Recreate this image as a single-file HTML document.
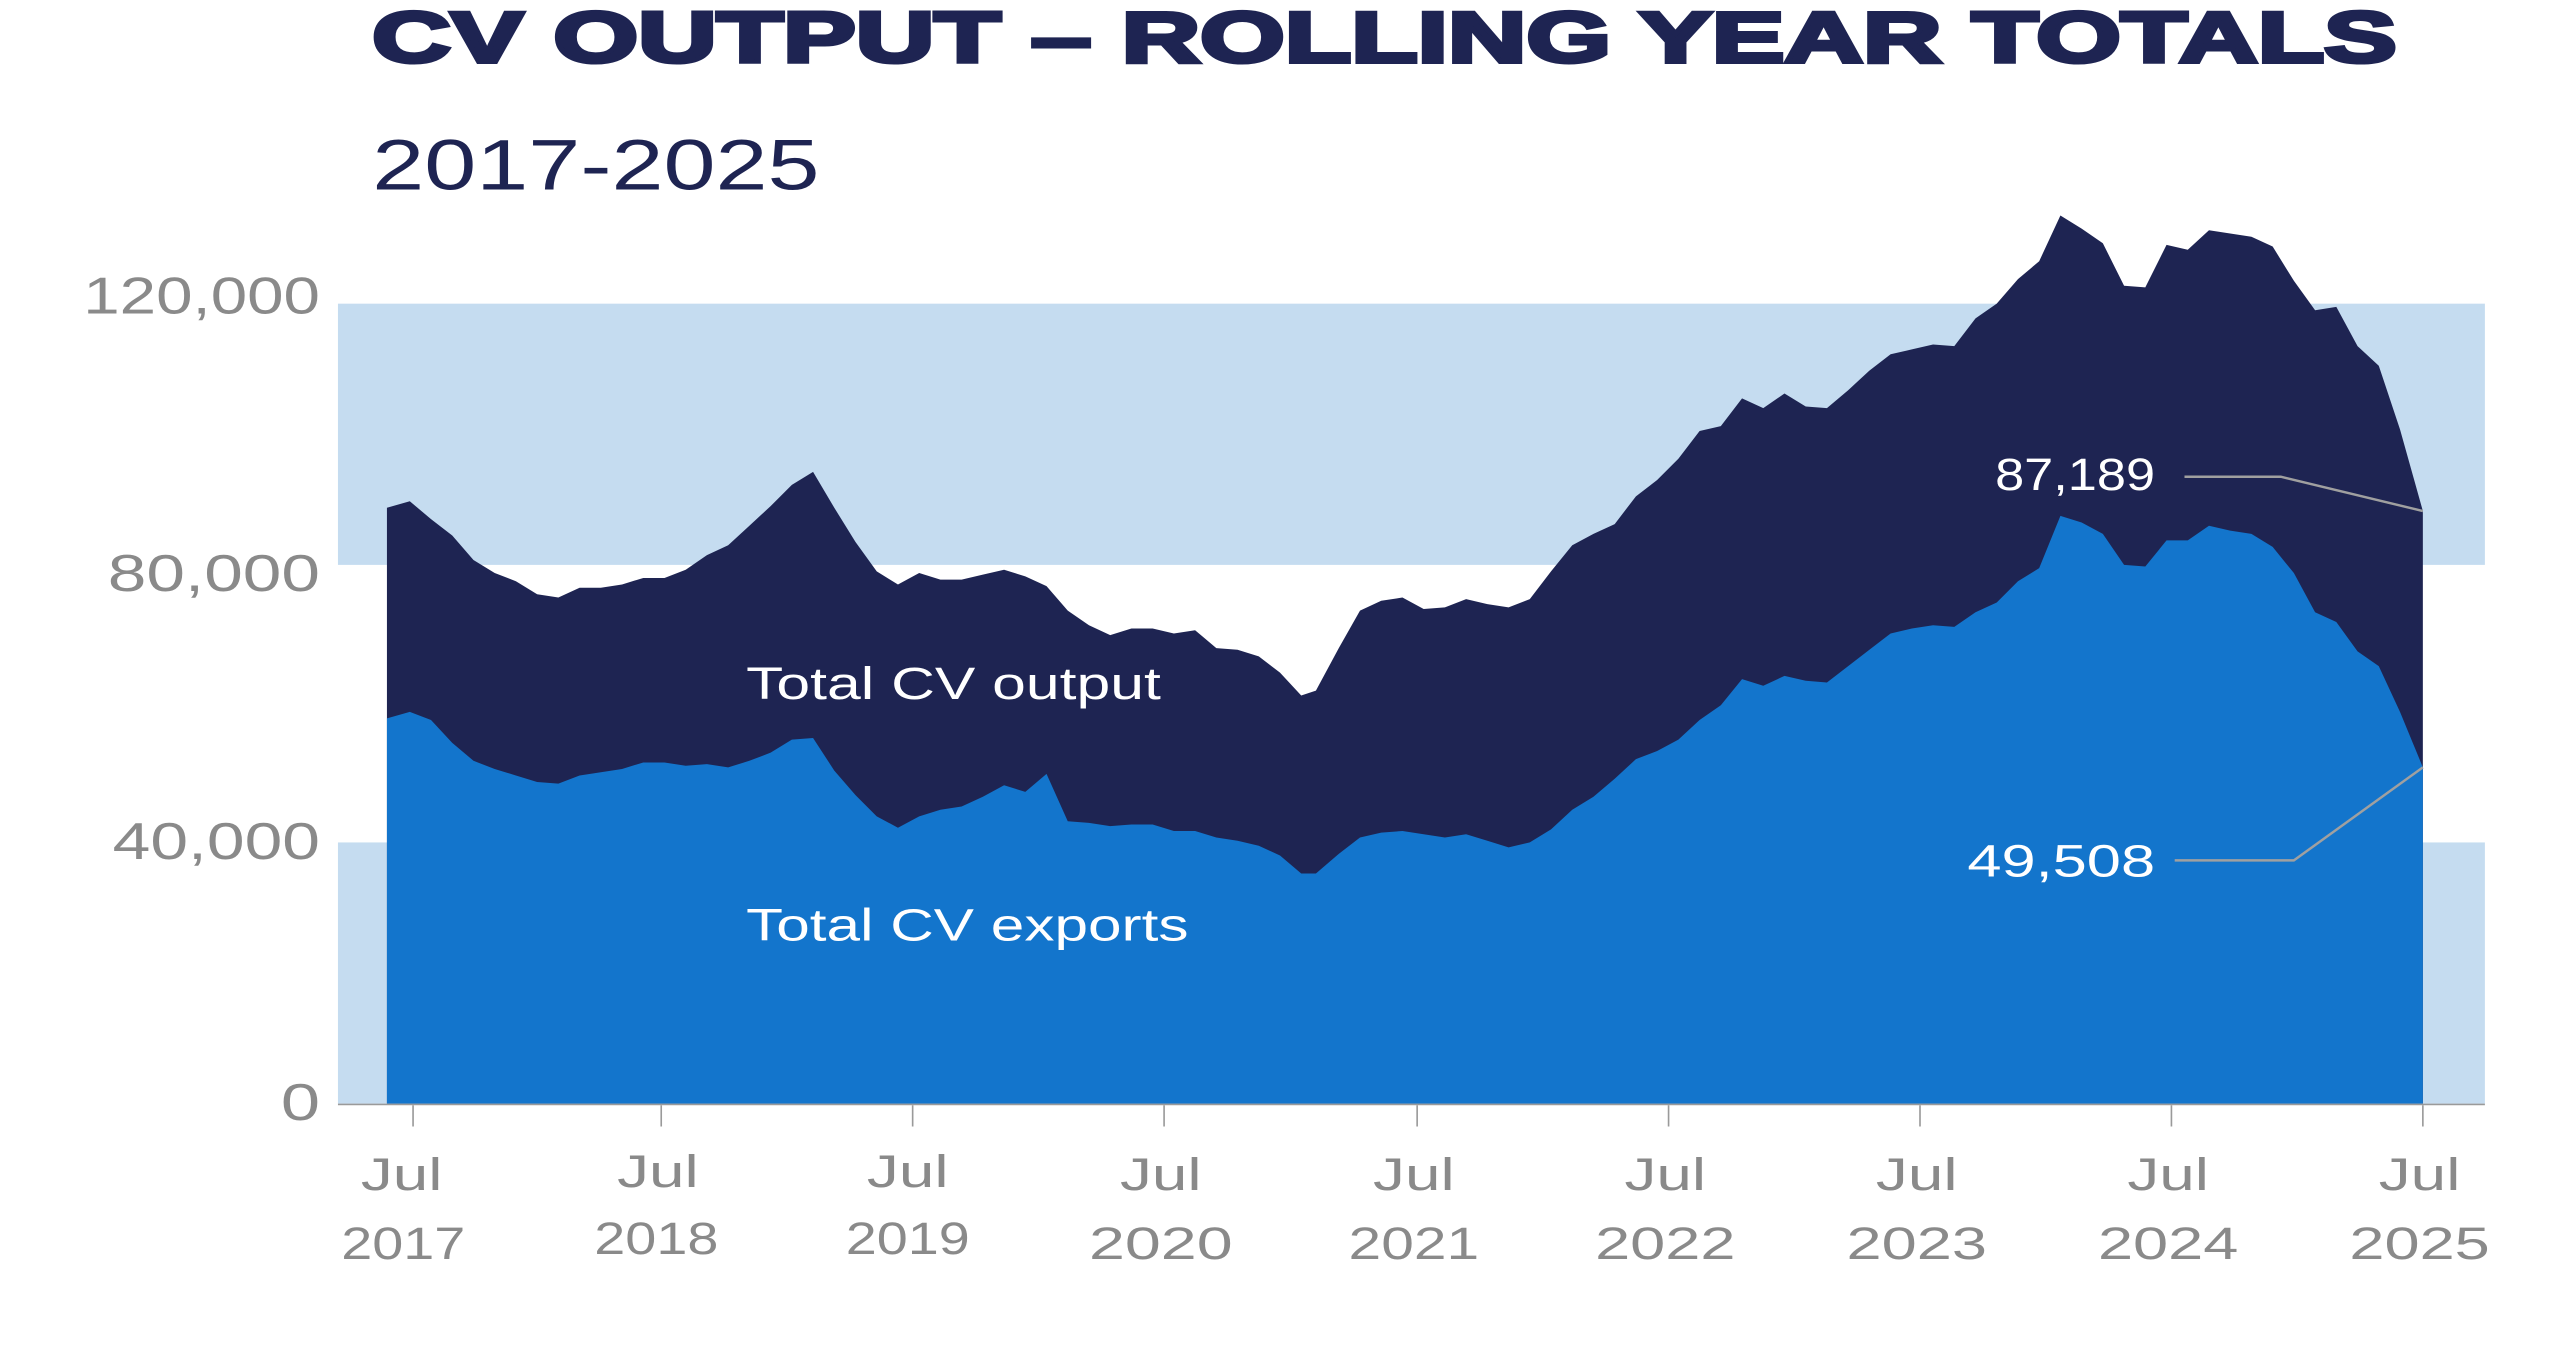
<!DOCTYPE html>
<html><head><meta charset="utf-8"><style>
html,body{margin:0;padding:0;background:#fff;}
svg{display:block;}
text{font-family:"Liberation Sans",sans-serif;}
</style></head><body>
<svg width="2560" height="1351" viewBox="0 0 1568 827.5" preserveAspectRatio="none">
<rect x="0" y="0" width="1568" height="827.5" fill="#fff"/>
<text x="228" y="38" font-size="44" font-weight="bold" fill="#1e2452" textLength="1240" lengthAdjust="spacingAndGlyphs" stroke="#1e2452" stroke-width="2.5">CV OUTPUT – ROLLING YEAR TOTALS</text>
<text x="228" y="116" font-size="44" fill="#1e2452" textLength="274" lengthAdjust="spacingAndGlyphs">2017-2025</text>
<rect x="207" y="186" width="1315" height="160" fill="#c5dcf0"/>
<rect x="207" y="516" width="1315" height="160" fill="#c5dcf0"/>
<g font-size="32" fill="#8a8a8a" text-anchor="end">
<text x="196" y="192" textLength="145" lengthAdjust="spacingAndGlyphs">120,000</text>
<text x="196" y="362" textLength="130" lengthAdjust="spacingAndGlyphs">80,000</text>
<text x="196" y="526" textLength="127" lengthAdjust="spacingAndGlyphs">40,000</text>
<text x="196" y="686" textLength="24" lengthAdjust="spacingAndGlyphs">0</text>
</g>
<polygon fill="#1e2452" points="237,676 237,311 251,307 264,318 277,328 290,343 303,351 316,356 329,364 342,366 355,360 368,360 381,358 394,354 407,354 420,349 433,340 446,334 459,322 472,310 485,297 498,289 511,311 524,332 537,350 550,358 563,351 576,355 589,355 602,352 615,349 628,353 641,359 654,374 667,383 680,389 693,385 706,385 719,388 732,386 745,397 758,398 771,402 784,412 797,426 806,423 820,397 833,374 846,368 859,366 872,373 885,372 898,367 911,370 924,372 937,367 950,350 963,334 976,327 989,321 1002,304 1015,294 1028,281 1041,264 1054,261 1067,244 1080,250 1093,241 1106,249 1119,250 1132,239 1145,227 1158,217 1171,214 1184,211 1197,212 1210,195 1223,186 1236,171 1249,160 1262,132 1275,140 1288,149 1301,175 1314,176 1327,150 1340,153 1353,141 1366,143 1379,145 1392,151 1405,172 1418,190 1431,188 1444,212 1457,224 1470,263 1484,313 1484,676"/>
<polygon fill="#1375cc" points="237,676 237,440 251,436 264,441 277,455 290,466 303,471 316,475 329,479 342,480 355,475 368,473 381,471 394,467 407,467 420,469 433,468 446,470 459,466 472,461 485,453 498,452 511,472 524,487 537,500 550,507 563,500 576,496 589,494 602,488 615,481 628,485 641,474 654,503 667,504 680,506 693,505 706,505 719,509 732,509 745,513 758,515 771,518 784,524 797,535 806,535 820,523 833,513 846,510 859,509 872,511 885,513 898,511 911,515 924,519 937,516 950,508 963,496 976,488 989,477 1002,465 1015,460 1028,453 1041,441 1054,432 1067,416 1080,420 1093,414 1106,417 1119,418 1132,408 1145,398 1158,388 1171,385 1184,383 1197,384 1210,375 1223,369 1236,356 1249,348 1262,316 1275,320 1288,327 1301,346 1314,347 1327,331 1340,331 1353,322 1366,325 1379,327 1392,335 1405,351 1418,375 1431,381 1444,399 1457,408 1470,436 1484,470 1484,676"/>
<line x1="207" y1="676.5" x2="1522" y2="676.5" stroke="#9a9a9a" stroke-width="1"/>
<g stroke="#9a9a9a" stroke-width="1">
<line x1="253" y1="677" x2="253" y2="690"/><line x1="405" y1="677" x2="405" y2="690"/><line x1="559" y1="677" x2="559" y2="690"/><line x1="713" y1="677" x2="713" y2="690"/><line x1="868" y1="677" x2="868" y2="690"/><line x1="1022" y1="677" x2="1022" y2="690"/><line x1="1176" y1="677" x2="1176" y2="690"/><line x1="1330" y1="677" x2="1330" y2="690"/><line x1="1484" y1="677" x2="1484" y2="690"/>
</g>
<g font-size="28" fill="#8a8a8a" text-anchor="middle">
<text x="246" y="729" textLength="50" lengthAdjust="spacingAndGlyphs">Jul</text><text x="247" y="771" textLength="76" lengthAdjust="spacingAndGlyphs">2017</text>
<text x="403" y="727" textLength="50" lengthAdjust="spacingAndGlyphs">Jul</text><text x="402" y="768" textLength="76" lengthAdjust="spacingAndGlyphs">2018</text>
<text x="556" y="727" textLength="50" lengthAdjust="spacingAndGlyphs">Jul</text><text x="556" y="768" textLength="76" lengthAdjust="spacingAndGlyphs">2019</text>
<text x="711" y="729" textLength="50" lengthAdjust="spacingAndGlyphs">Jul</text><text x="711" y="771" textLength="88" lengthAdjust="spacingAndGlyphs">2020</text>
<text x="866" y="729" textLength="50" lengthAdjust="spacingAndGlyphs">Jul</text><text x="866" y="771" textLength="80" lengthAdjust="spacingAndGlyphs">2021</text>
<text x="1020" y="729" textLength="50" lengthAdjust="spacingAndGlyphs">Jul</text><text x="1020" y="771" textLength="86" lengthAdjust="spacingAndGlyphs">2022</text>
<text x="1174" y="729" textLength="50" lengthAdjust="spacingAndGlyphs">Jul</text><text x="1174" y="771" textLength="86" lengthAdjust="spacingAndGlyphs">2023</text>
<text x="1328" y="729" textLength="50" lengthAdjust="spacingAndGlyphs">Jul</text><text x="1328" y="771" textLength="86" lengthAdjust="spacingAndGlyphs">2024</text>
<text x="1482" y="729" textLength="50" lengthAdjust="spacingAndGlyphs">Jul</text><text x="1482" y="771" textLength="86" lengthAdjust="spacingAndGlyphs">2025</text>
</g>
<g font-size="28" fill="#fff">
<text x="457" y="428" textLength="254" lengthAdjust="spacingAndGlyphs">Total CV output</text>
<text x="457" y="576" textLength="271" lengthAdjust="spacingAndGlyphs">Total CV exports</text>
<text x="1320" y="300" text-anchor="end" textLength="98" lengthAdjust="spacingAndGlyphs">87,189</text>
<text x="1320" y="537" text-anchor="end" textLength="115" lengthAdjust="spacingAndGlyphs">49,508</text>
</g>
<polyline points="1338,292 1397,292 1484,313" fill="none" stroke="#a0a0a0" stroke-width="1.5"/>
<polyline points="1332,527 1405,527 1484,470" fill="none" stroke="#a0a0a0" stroke-width="1.5"/>
</svg>
</body></html>
